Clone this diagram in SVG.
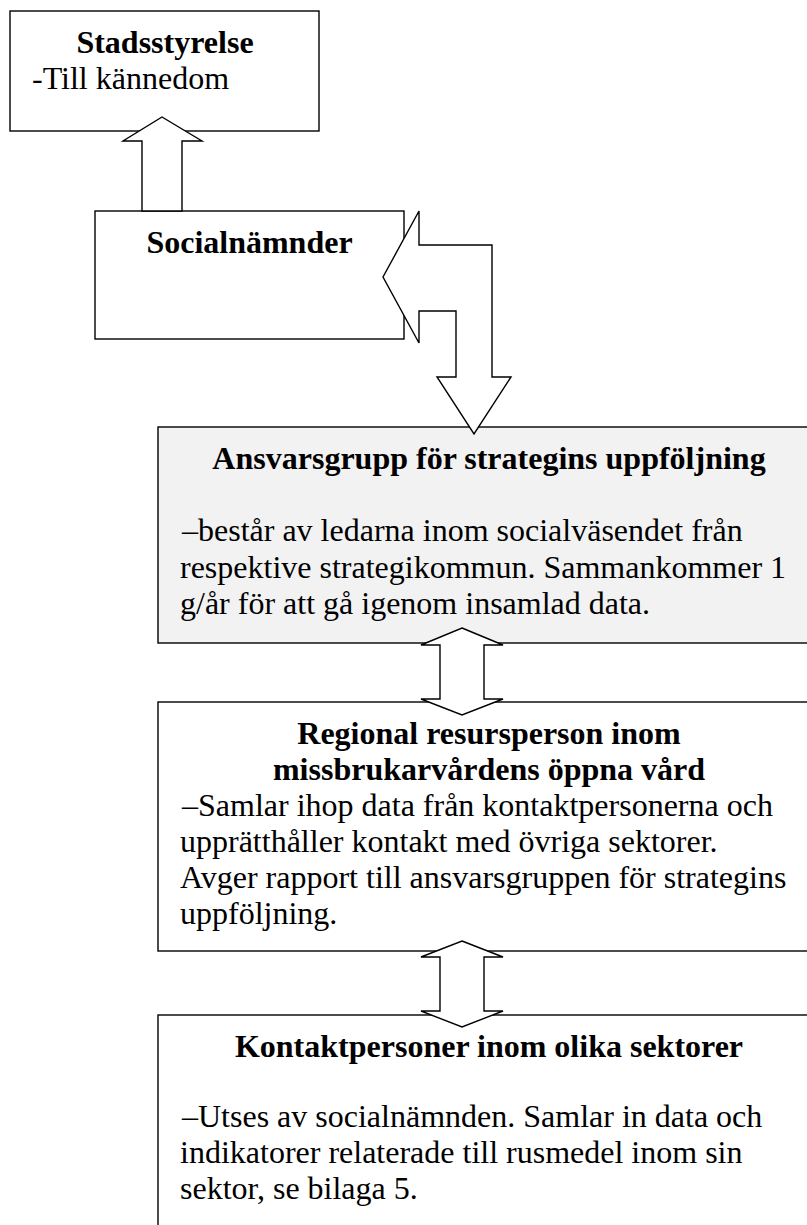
<svg xmlns="http://www.w3.org/2000/svg" width="807" height="1225" viewBox="0 0 807 1225">
<style>
.box{fill:#ffffff;stroke:#000000;stroke-width:1.4}
.grey{fill:#f2f2f2}
.arrow{fill:#ffffff;stroke:#000000;stroke-width:1.4;stroke-linejoin:miter}
text{font-family:"Liberation Serif","Times New Roman",serif;font-size:32px;fill:#000000}
.t{font-weight:bold;text-anchor:middle}
</style>
<rect x="0" y="0" width="807" height="1225" fill="#ffffff"/>
<g id="stadsstyrelse">
<rect class="box" x="10" y="11" width="309" height="120"/>
<text class="t" x="165" y="53">Stadsstyrelse</text>
<text x="32" y="89">-Till kännedom</text>
</g>
<g id="socialnamnder">
<rect class="box" x="95" y="211" width="309" height="128"/>
<text class="t" x="249.5" y="253">Socialnämnder</text>
</g>
<g id="ansvarsgrupp">
<rect class="box grey" x="158" y="427" width="662" height="216"/>
<text class="t" x="489" y="469">Ansvarsgrupp för strategins uppföljning</text>
<text x="182" y="541">–består av ledarna inom socialväsendet från</text>
<text x="180" y="577.5">respektive strategikommun. Sammankommer 1</text>
<text x="180" y="614">g/år för att gå igenom insamlad data.</text>
</g>
<g id="regional">
<rect class="box" x="158" y="702" width="662" height="249"/>
<text class="t" x="489" y="744">Regional resursperson inom</text>
<text class="t" x="489" y="780">missbrukarvårdens öppna vård</text>
<text x="182" y="816">–Samlar ihop data från kontaktpersonerna och</text>
<text x="180" y="852">upprätthåller kontakt med övriga sektorer.</text>
<text x="180" y="888">Avger rapport till ansvarsgruppen för strategins</text>
<text x="180" y="924">uppföljning.</text>
</g>
<g id="kontaktpersoner">
<rect class="box" x="158" y="1015" width="662" height="230"/>
<text class="t" x="489" y="1057">Kontaktpersoner inom olika sektorer</text>
<text x="182" y="1127">–Utses av socialnämnden. Samlar in data och</text>
<text x="180" y="1163">indikatorer relaterade till rusmedel inom sin</text>
<text x="180" y="1199">sektor, se bilaga 5.</text>
</g>
<g id="connectors">
<polygon class="arrow" points="162,117 202,141 182,141 182,211 142,211 142,141 123,141"/>
<polygon class="arrow" points="383,277 419,211 419,245 492,245 492,377 511,377 474,434 437,377 456,377 456,311 419,311 419,343"/>
<polygon class="arrow" points="462,628 503,645 484,645 484,699 503,699 462,715 421,699 440,699 440,645 421,645"/>
<polygon class="arrow" points="462,941 503,957 484,957 484,1011 503,1011 462,1027 421,1011 440,1011 440,957 421,957"/>
</g>
</svg>
